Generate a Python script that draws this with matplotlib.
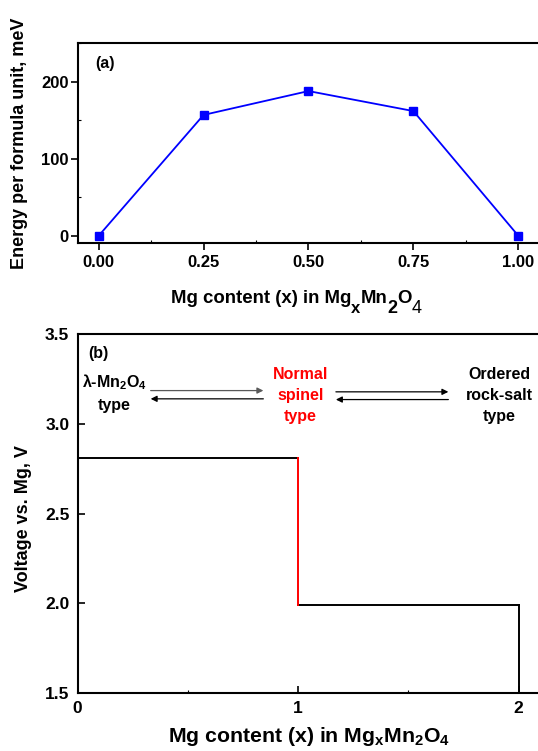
import matplotlib
matplotlib.use("Agg")
import matplotlib.pyplot as plt
from matplotlib.ticker import MultipleLocator

plt.rcParams['font.family'] = ['Liberation Sans', 'DejaVu Sans']
plt.rcParams['font.weight'] = 'bold'
plt.rcParams['axes.labelweight'] = 'bold'
plt.rcParams['mathtext.fontset'] = 'custom'
plt.rcParams['mathtext.rm'] = 'Liberation Sans:bold'
plt.rcParams['mathtext.it'] = 'Liberation Sans:bold'
plt.rcParams['mathtext.bf'] = 'Liberation Sans:bold'

# ---- data ----
mg_content_a = [0.0, 0.25, 0.50, 0.75, 1.00]
energy_mev = [0, 157, 188, 162, 0]
xticks_a = [0.00, 0.25, 0.50, 0.75, 1.00]
xticklabels_a = ['0.00', '0.25', '0.50', '0.75', '1.00']
yticks_a = [0, 100, 200]

plateau_x = [0, 1, 2]          # boundaries of the voltage plateaus
plateau_v = [2.81, 1.99]       # voltage of each plateau
v_floor = 1.5
xticks_b = [0, 1, 2]
yticks_b = [1.5, 2.0, 2.5, 3.0, 3.5]
yticklabels_b = ['1.5', '2.0', '2.5', '3.0', '3.5']

phase_labels = ['\u03bb-Mn$_2$O$_4$\ntype', 'Normal\nspinel\ntype', 'Ordered\nrock-salt\ntype']
phase_colors = ['black', 'red', 'black']

# x-label of panel (a) in pieces: (text, size, weight, vertical shift in pt)
xlabel_a_pieces = [('Mg content (x) in Mg', 13.4, 'bold', 0),
                   ('x', 12, 'bold', -7),
                   ('Mn', 13.4, 'bold', 0),
                   ('2', 13, 'bold', -7),
                   ('O', 13.4, 'bold', 0),
                   ('4', 13, 'normal', -7)]

fig = plt.figure(figsize=(5.38, 7.51), dpi=100)

# ---------------- panel (a) ----------------
axa = fig.add_axes([0.1444, 0.6768, 0.858, 0.2655])
axa.plot(mg_content_a, energy_mev, color='blue', lw=1.3, marker='s', ms=6.2,
         mfc='blue', mec='blue', clip_on=False, zorder=3)
axa.set_xlim(-0.05, 1.05)
axa.set_ylim(-9, 250)
axa.set_xticks(xticks_a)
axa.set_xticklabels(xticklabels_a)
axa.set_yticks(yticks_a)
axa.xaxis.set_minor_locator(MultipleLocator(0.125))
axa.yaxis.set_minor_locator(MultipleLocator(50))
axa.tick_params(which='major', direction='out', length=5, width=1.2,
                labelsize=12, pad=4)
axa.tick_params(axis='y', which='major', pad=1.5)
axa.tick_params(which='minor', direction='in', length=2.5, width=0.8)
for s in axa.spines.values():
    s.set_linewidth(1.5)
axa.spines['right'].set_visible(False)
axa.set_ylabel('Energy per formula unit, meV', fontsize=13, fontweight='bold')
axa.yaxis.set_label_coords(-0.125, 0.5)
axa.yaxis.label.set_va('center')

base_y = -0.304
txt0, fs0, fw0, dy0 = xlabel_a_pieces[0]
prev = axa.text(0.2015, base_y, txt0, transform=axa.transAxes, ha='left',
                va='baseline', fontsize=fs0, fontweight=fw0)
for txt, fs, fw, dy in xlabel_a_pieces[1:]:
    prev = axa.annotate(txt, xy=(1, base_y), xycoords=(prev, axa.transAxes),
                        xytext=(0, dy), textcoords='offset points',
                        ha='left', va='baseline', fontsize=fs, fontweight=fw,
                        annotation_clip=False)

axa.text(0.0375, 0.9, '(a)', transform=axa.transAxes, fontsize=11.5,
         fontweight='bold', ha='left', va='center')

# ---------------- panel (b) ----------------
axb = fig.add_axes([0.1444, 0.0772, 0.8607, 0.478])
for i, v in enumerate(plateau_v):
    axb.plot([plateau_x[i], plateau_x[i + 1]], [v, v], color='black', lw=1.4)
axb.plot([plateau_x[1], plateau_x[1]], [plateau_v[0], plateau_v[1]], color='red', lw=1.4)
axb.plot([plateau_x[2], plateau_x[2]], [plateau_v[1], v_floor], color='black', lw=1.4)

axb.set_xlim(0, 2.1)
axb.set_ylim(1.5, 3.5)
axb.set_xticks(xticks_b)
axb.set_yticks(yticks_b)
axb.set_yticklabels(yticklabels_b)
axb.xaxis.set_minor_locator(MultipleLocator(0.5))
axb.tick_params(which='major', direction='in', length=5, width=1.2,
                labelsize=12.5, pad=6)
axb.tick_params(which='minor', direction='in', length=2.5, width=0.8)
for s in axb.spines.values():
    s.set_linewidth(1.5)
axb.spines['right'].set_visible(False)
axb.set_ylabel('Voltage vs. Mg, V', fontsize=13, fontweight='bold')
axb.yaxis.set_label_coords(-0.118, 0.485)
axb.yaxis.label.set_va('center')
axb.set_xlabel('Mg content (x) in Mg$_x$Mn$_2$O$_4$', fontsize=15.3, fontweight='bold')
axb.xaxis.set_label_coords(0.4996, -0.1357)
axb.xaxis.label.set_va('baseline')

axb.text(0.048, 3.392, '(b)', fontsize=11.5, fontweight='bold', ha='left', va='center')

phase_x = [0.165, 1.011, 1.912]
phase_y = [3.174, 3.157, 3.157]
for lab, col, px, py in zip(phase_labels, phase_colors, phase_x, phase_y):
    axb.text(px, py, lab, color=col, fontsize=11.5, fontweight='bold',
             ha='center', va='center', linespacing=1.5, multialignment='center')

arrow_specs = [
    ((0.331, 3.185), (0.842, 3.185), '0.35'),
    ((0.842, 3.139), (0.331, 3.139), 'black'),
    ((1.171, 3.178), (1.681, 3.178), 'black'),
    ((1.681, 3.135), (1.171, 3.135), 'black'),
]
for start, end, col in arrow_specs:
    axb.annotate('', xy=end, xytext=start,
                 arrowprops=dict(arrowstyle='-|>', color=col, lw=0.9,
                                 mutation_scale=9, shrinkA=0, shrinkB=0))

fig.savefig('out.png', dpi=100)
